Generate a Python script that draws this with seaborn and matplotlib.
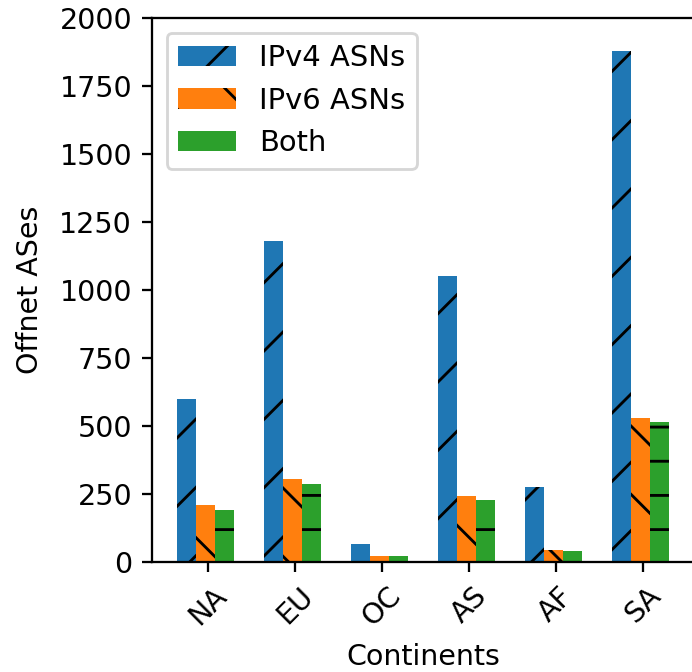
import numpy as np
import pandas as pd
import matplotlib
matplotlib.use("Agg")
import matplotlib.pyplot as plt
import seaborn as sns

continents = ["NA", "EU", "OC", "AS", "AF", "SA"]
ipv4 = [600, 1180, 65, 1050, 275, 1880]
ipv6 = [210, 305, 22, 243, 44, 529]
both = [193, 288, 22, 228, 40, 516]
series = ["IPv4 ASNs", "IPv6 ASNs", "Both"]
colors = ["#1f77b4", "#ff7f0e", "#2ca02c"]
hatches = ["/", "\\", "-"]

df = pd.DataFrame({
    "Continents": continents * 3,
    "Offnet ASes": ipv4 + ipv6 + both,
    "Series": [s for s in series for _ in continents],
})

plt.rcParams["hatch.color"] = "black"
plt.rcParams["hatch.linewidth"] = 1.0
plt.rcParams["font.family"] = ["DejaVu Sans"]

DPI = 205
fig = plt.figure(figsize=(692 / DPI, 672 / DPI), dpi=DPI)
ax = fig.add_axes([152 / 692, 110 / 672, 542 / 692, 544 / 672])

sns.barplot(data=df, x="Continents", y="Offnet ASes", hue="Series",
            hue_order=series, order=continents, palette=colors,
            saturation=1, width=0.66, errorbar=None, legend=False, ax=ax,
            linewidth=0)

for cont, h in zip(ax.containers, hatches):
    for p in cont.patches:
        p.set_hatch(h)
        p._hatch_color = (0, 0, 0, 1)

ax.legend(ax.containers, series, loc="upper left", fontsize=10.2)

ax.set_ylim(0, 2000)
ax.set_yticks(np.arange(0, 2001, 250))
ax.set_xlim(-0.613, 5.613)
ax.set_xticks(np.arange(len(continents)) + 0.03)
ax.set_xticklabels(continents, rotation=45)
ax.tick_params(labelsize=10)
ax.set_xlabel("Continents", fontsize=10)
ax.set_ylabel("Offnet ASes", fontsize=10, labelpad=5.5)

fig.savefig("out.png", dpi=DPI)
